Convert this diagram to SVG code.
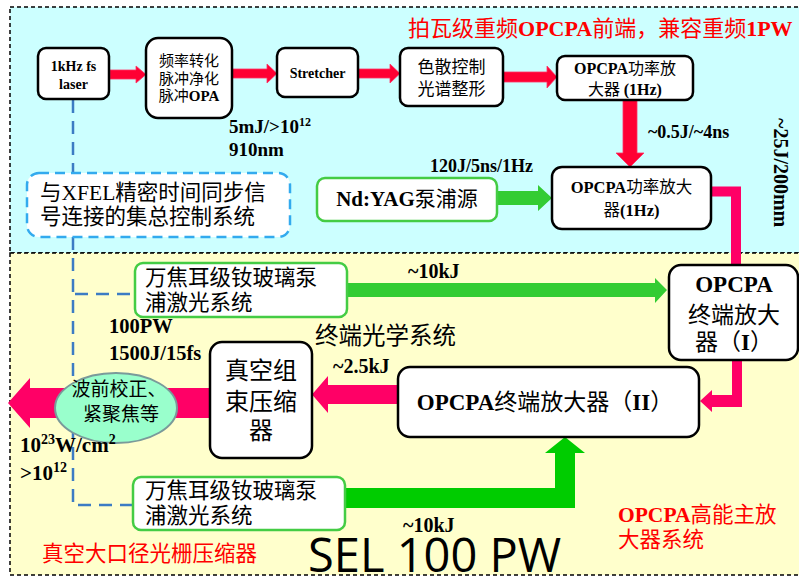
<svg xmlns="http://www.w3.org/2000/svg" width="799" height="577" viewBox="0 0 799 577">
<defs>
<style>
.region{stroke:#000;stroke-width:1.5;stroke-dasharray:4 3}
.box{fill:#fff;stroke:#000;stroke-width:2.5}
.gbox{fill:#fff;stroke:#44cc44;stroke-width:2.5}
.cn{font-family:"Noto Sans CJK SC","Noto Sans",sans-serif;fill:#000}
.b{font-family:"Liberation Serif","Noto Serif CJK SC",serif;font-weight:bold}
.r{font-family:"Liberation Serif",serif;font-weight:normal}
.red{fill:#ff0000}
.m{text-anchor:middle}
.redarrow{fill:#ff0033;stroke:#ff3366;stroke-width:0.8}
.pink{fill:#ff0066}
.blue{fill:none;stroke:#3c7cc4;stroke-width:2.5;stroke-dasharray:13 8}
</style>
</defs>
<rect class="region" x="10" y="7" width="800" height="246" fill="#ccffff"/>
<rect class="region" x="10" y="253" width="800" height="322" fill="#ffffcc"/>

<g id="connectors">
<path class="blue" d="M73,100 V173 M73,237 V505 H133 M75,294 H135"/>
<polygon class="redarrow" points="110,70 136,70 136,66 146,74.5 136,83 136,79 110,79"/>
<polygon class="redarrow" points="232,69 267,69 267,64 277,73.5 267,83 267,78 232,78"/>
<polygon class="redarrow" points="358,69 390,69 390,64 400,73.5 390,83 390,78 358,78"/>
<polygon class="redarrow" points="503,72 547,72 547,66 557,77 547,88 547,82 503,82"/>
<polygon class="redarrow" points="623,100 637,100 637,153 644,153 630,167 616,153 623,153"/>
<polygon fill="#33cc33" points="497,191 538,191 538,185 552,198 538,211 538,205 497,205"/>
<polyline points="711,191.5 736,191.5 736,265" fill="none" stroke="#ff0066" stroke-width="10"/>
<polygon class="pink" points="732,360 742,360 742,407 712,407 712,412 700,401 712,390 712,395 732,395"/>
<polygon class="pink" points="398,385 328,385 328,376 312,394.5 328,413 328,404 398,404"/>
<polygon class="pink" points="210,388 30,388 30,378 8,403 30,428 30,418 210,418"/>
<polygon fill="#33cc33" points="347,283 655,283 655,278 667,290 655,303 655,297 347,297"/>
<polygon fill="#00cc00" points="345,488 555,488 555,453 545,453 565,437 585,453 575,453 575,508 345,508"/>
</g>

<g id="laser">
<rect class="box" x="38" y="48" width="71" height="51" rx="8"/>
<text class="b m" x="73.5" y="71" font-size="14">1kHz fs</text>
<text class="b m" x="73.5" y="89" font-size="14">laser</text>
</g>
<g id="opa">
<rect class="box" x="146" y="38" width="86" height="80" rx="12"/>
<text class="cn m" x="189" y="66" font-size="15">频率转化</text>
<text class="cn m" x="189" y="84" font-size="15">脉冲净化</text>
<text class="cn m" x="189" y="101" font-size="15">脉冲<tspan class="b">OPA</tspan></text>
</g>
<g id="stretcher">
<rect class="box" x="277" y="48" width="81" height="49" rx="8"/>
<text class="b m" x="317.5" y="78" font-size="14">Stretcher</text>
</g>
<g id="dispersion">
<rect class="box" x="400" y="48" width="103" height="58" rx="8"/>
<text class="cn m" x="451.5" y="73" font-size="17">色散控制</text>
<text class="cn m" x="451.5" y="95" font-size="17">光谱整形</text>
</g>
<g id="opcpa1">
<rect class="box" x="557" y="56" width="136" height="44" rx="8"/>
<text class="cn m" x="625" y="74" font-size="16"><tspan class="b">OPCPA</tspan>功率放</text>
<text class="cn m" x="625" y="95" font-size="16">大器 <tspan class="b">(1Hz)</tspan></text>
</g>
<g id="opcpa2">
<rect class="box" x="552" y="167" width="159" height="62" rx="10"/>
<text class="cn m" x="631.5" y="193" font-size="16.5"><tspan class="b">OPCPA</tspan>功率放大</text>
<text class="cn m" x="631.5" y="216" font-size="16.5">器<tspan class="b">(1Hz)</tspan></text>
</g>
<g id="ndyag">
<rect class="gbox" x="317" y="178" width="180" height="43" rx="8"/>
<text class="cn m" x="407" y="206" font-size="21"><tspan class="b">Nd:YAG</tspan>泵浦源</text>
</g>
<g id="control">
<rect x="27" y="173" width="263" height="64" rx="12" fill="#fff" stroke="#33aaee" stroke-width="2.5" stroke-dasharray="10 6"/>
<text class="cn" x="40" y="200" font-size="21.5">与<tspan class="r">XFEL</tspan>精密时间同步信</text>
<text class="cn" x="40" y="224" font-size="21.5">号连接的集总控制系统</text>
</g>
<g id="pump1">
<rect class="gbox" x="135" y="263" width="212" height="54" rx="8"/>
<text class="cn" x="145" y="285" font-size="21.5">万焦耳级钕玻璃泵</text>
<text class="cn" x="145" y="310" font-size="21.5">浦激光系统</text>
</g>
<g id="final1">
<rect class="box" x="669" y="265" width="129" height="95" rx="12"/>
<text class="b m" x="734" y="292" font-size="23">OPCPA</text>
<text class="cn m" x="734" y="323" font-size="23">终端放大</text>
<text class="cn m" x="734" y="350" font-size="23">器（<tspan class="b">I</tspan>）</text>
</g>
<g id="compressor">
<rect class="box" x="210" y="342" width="102" height="116" rx="12"/>
<text class="cn m" x="261" y="379" font-size="24">真空组</text>
<text class="cn m" x="261" y="410" font-size="24">束压缩</text>
<text class="cn m" x="261" y="439" font-size="24">器</text>
</g>
<g id="final2">
<rect class="box" x="398" y="367" width="301" height="70" rx="12"/>
<text class="cn m" x="545" y="410" font-size="23"><tspan class="b">OPCPA</tspan>终端放大器（<tspan class="b">II</tspan>）</text>
</g>
<g id="focus">
<ellipse cx="116" cy="408" rx="61" ry="35" fill="#99ffcc" stroke="#7a9a9a" stroke-width="2"/>
<text class="cn m" x="119" y="396" font-size="19">波前校正、</text>
<text class="cn m" x="121" y="421" font-size="19">紧聚焦等</text>
</g>
<g id="pump2">
<rect class="gbox" x="133" y="477" width="212" height="53" rx="8"/>
<text class="cn" x="145" y="498" font-size="21.5">万焦耳级钕玻璃泵</text>
<text class="cn" x="145" y="523" font-size="21.5">浦激光系统</text>
</g>

<g id="labels">
<text class="cn red" x="408" y="36" font-size="22">拍瓦级重频<tspan class="b">OPCPA</tspan>前端，兼容重频<tspan class="b">1PW</tspan></text>
<text class="b" x="229" y="133" font-size="19">5mJ/&gt;10<tspan font-size="12" dy="-7">12</tspan></text>
<text class="b" x="229" y="156" font-size="19">910nm</text>
<text class="b" x="648" y="138" font-size="18">~0.5J/~4ns</text>
<text class="b" x="430" y="172" font-size="18">120J/5ns/1Hz</text>
<text class="b" transform="translate(774,118) rotate(90)" font-size="20">~25J/200mm</text>
<text class="b" x="408" y="278" font-size="20">~10kJ</text>
<text class="cn" x="315" y="344" font-size="23.5">终端光学系统</text>
<text class="b" x="109" y="333" font-size="20.5">100PW</text>
<text class="b" x="109" y="360" font-size="20.5">1500J/15fs</text>
<text class="b" x="333" y="373" font-size="20">~2.5kJ</text>
<text class="b" x="20" y="452" font-size="21">10<tspan font-size="14" dy="-8">23</tspan><tspan dy="8">W/cm</tspan><tspan font-size="14" dy="-8">2</tspan></text>
<text class="b" x="20" y="480" font-size="21">&gt;10<tspan font-size="14" dy="-8">12</tspan></text>
<text class="b" x="403" y="532" font-size="20">~10kJ</text>
<text x="308" y="572" font-family="'Open Sans','Noto Sans',sans-serif" font-size="47">SEL 100 PW</text>
<text class="cn red" x="618" y="522" font-size="21.5"><tspan class="b">OPCPA</tspan>高能主放</text>
<text class="cn red" x="618" y="547" font-size="21.5">大器系统</text>
<text class="cn red" x="42" y="561" font-size="21.5">真空大口径光栅压缩器</text>
</g>
</svg>
